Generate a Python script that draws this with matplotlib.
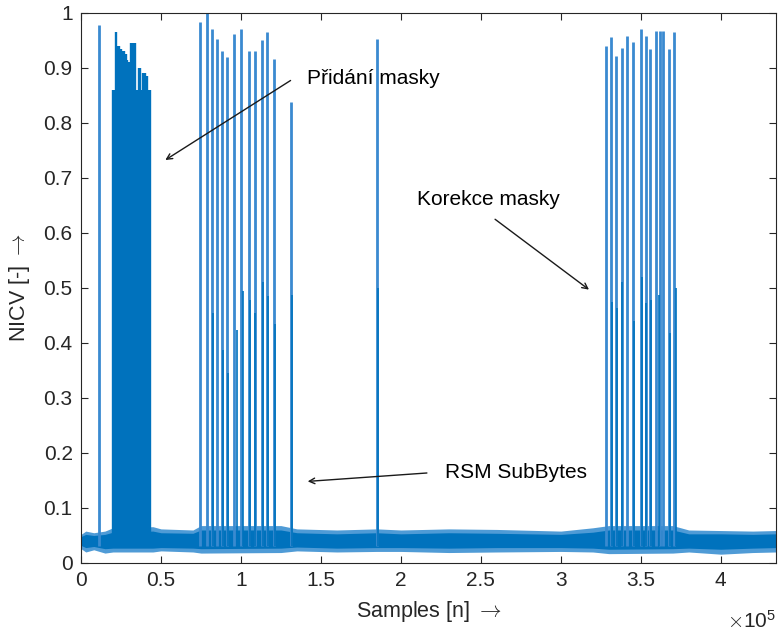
import matplotlib.pyplot as plt
from matplotlib.ticker import MultipleLocator, FuncFormatter

# isolated spikes (sample index, NICV peak)
spike_x = [11250, 74375, 78750, 81875, 85000, 88125, 91250, 95625, 100000,
           105000, 108750, 113125, 116250, 120625, 131250, 185000,
           328000, 331500, 334500, 338500, 341500, 345000, 350000, 353000,
           356000, 359500, 362000, 364000, 367500, 371000]
spike_h = [0.978, 0.983, 1.0, 0.97, 0.953, 0.93, 0.92, 0.962, 0.97,
           0.93, 0.93, 0.95, 0.966, 0.916, 0.838, 0.953,
           0.94, 0.956, 0.922, 0.936, 0.958, 0.947, 0.971, 0.958,
           0.934, 0.967, 0.967, 0.967, 0.934, 0.966]

# lower neighbouring samples inside the spikes
low_x = [82500, 88750, 91875, 97500, 101250, 105625, 108750, 113750, 116875,
         121250, 131875, 185500,
         332000, 335000, 338000, 345500, 350500, 353500, 356500, 361500,
         368000, 372000]
low_h = [0.455, 0.388, 0.346, 0.424, 0.494, 0.479, 0.455, 0.51, 0.485,
         0.434, 0.488, 0.5,
         0.475, 0.464, 0.51, 0.44, 0.52, 0.473, 0.479, 0.488,
         0.419, 0.50]

# dense block of "Pridani masky"
block_x = [20000, 21000, 22000, 23000, 24000, 25000, 26000, 27000, 28000,
           29000, 30000, 31000, 32000, 33000, 34000, 35000, 36000, 37000,
           38000, 39000, 40000, 41000, 42000, 43000]
block_h = [0.86, 0.86, 0.965, 0.94, 0.94, 0.935, 0.93, 0.93, 0.925,
           0.915, 0.91, 0.945, 0.945, 0.945, 0.945, 0.86, 0.90, 0.90,
           0.86, 0.89, 0.89, 0.885, 0.86, 0.86]

# noise floor: dense core and outer whiskers
band_x = [0, 3000, 8000, 15000, 20000, 45000, 50000, 70000, 75000, 125000,
          135000, 160000, 185000, 200000, 230000, 260000, 300000, 320000,
          330000, 370000, 380000, 400000, 420000, 434375]
band_lo = [0.032, 0.028, 0.030, 0.026, 0.027, 0.027, 0.028, 0.027, 0.026, 0.027,
           0.029, 0.027, 0.028, 0.028, 0.027, 0.028, 0.028, 0.027,
           0.025, 0.026, 0.027, 0.025, 0.027, 0.028]
band_hi = [0.048, 0.052, 0.050, 0.052, 0.056, 0.058, 0.055, 0.054, 0.060, 0.060,
           0.055, 0.053, 0.055, 0.053, 0.055, 0.054, 0.052, 0.056,
           0.060, 0.060, 0.053, 0.053, 0.052, 0.053]
outer_lo = [0.026, 0.020, 0.024, 0.018, 0.020, 0.020, 0.022, 0.020, 0.018, 0.019,
            0.022, 0.020, 0.021, 0.021, 0.019, 0.020, 0.021, 0.020,
            0.017, 0.018, 0.020, 0.016, 0.019, 0.020]
outer_hi = [0.052, 0.058, 0.055, 0.058, 0.064, 0.066, 0.062, 0.060, 0.068, 0.068,
            0.062, 0.060, 0.062, 0.060, 0.062, 0.061, 0.058, 0.064,
            0.068, 0.068, 0.060, 0.059, 0.058, 0.059]

BLUE = '#0072BD'
plt.rcParams['font.family'] = ['Liberation Sans', 'DejaVu Sans']
plt.rcParams['mathtext.fontset'] = 'cm'


def main():
    fig = plt.figure(figsize=(7.78, 6.34), dpi=100)
    ax = fig.add_axes([0.1041, 0.112, 0.893, 0.8675])

    ax.fill_between(band_x, outer_lo, outer_hi, color='#4f9bd6', lw=0)
    ax.fill_between(band_x, band_lo, band_hi, color=BLUE, lw=0)
    ax.vlines(block_x, 0.03, block_h, color=BLUE, lw=1.7)
    ax.vlines(spike_x, 0.03, spike_h, color='#3a8ad0', lw=2.0)
    ax.vlines(low_x, 0.03, low_h, color=BLUE, lw=1.2)

    ax.set_xlim(0, 434375)
    ax.set_ylim(0, 1)
    ax.xaxis.set_major_locator(MultipleLocator(50000))
    ax.yaxis.set_major_locator(MultipleLocator(0.1))
    ax.xaxis.set_major_formatter(FuncFormatter(lambda v, p: f"{v / 1e5:g}"))
    ax.yaxis.set_major_formatter(FuncFormatter(lambda v, p: f"{v:g}"))
    ax.tick_params(direction='in', length=5, labelsize=15, colors='#262626',
                   top=True, right=True, pad=6)
    for s in ax.spines.values():
        s.set_color('#262626')
        s.set_linewidth(0.8)

    ax.set_xlabel(r'Samples [n] $\rightarrow$', fontsize=15.5, color='#262626',
                  labelpad=6)
    ax.set_ylabel(r'NICV [-] $\rightarrow$', fontsize=15.5, color='#262626',
                  labelpad=8)
    fig.text(0.935, 0.01, r'$\times\mathregular{10^5}$', fontsize=15,
             color='#262626')

    arrow = dict(arrowstyle='->', color='#1a1a1a', lw=1.0)
    ax.text(141000, 0.880, 'Přidání masky', fontsize=15, va='center')
    ax.annotate('', xy=(51250, 0.730), xytext=(132500, 0.880), arrowprops=arrow)
    ax.text(210000, 0.660, 'Korekce masky', fontsize=15, va='center')
    ax.annotate('', xy=(319000, 0.494), xytext=(257500, 0.628), arrowprops=arrow)
    ax.text(227500, 0.164, 'RSM SubBytes', fontsize=15, va='center')
    ax.annotate('', xy=(140000, 0.148), xytext=(218000, 0.164), arrowprops=arrow)

    fig.savefig('out.png', dpi=100)


if __name__ == '__main__':
    main()
